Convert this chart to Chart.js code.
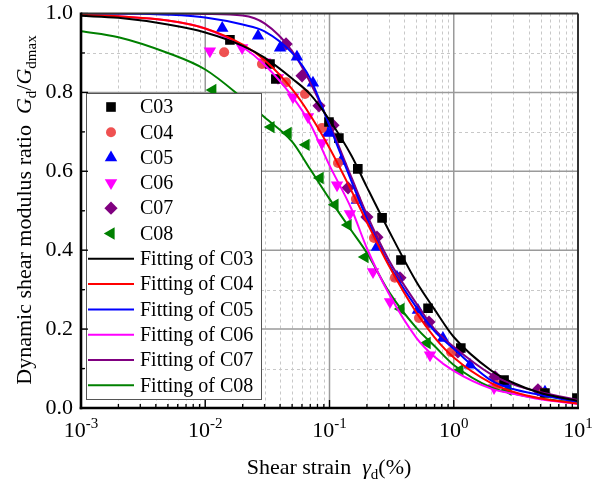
<!DOCTYPE html>
<html>
<head>
<meta charset="utf-8">
<script src="https://cdn.jsdelivr.net/npm/chart.js@4.4.0/dist/chart.umd.min.js"></script>
<style>
  html, body { margin: 0; padding: 0; background: #fff; }
</style>
</head>
<body>
<canvas id="myChart" width="604" height="484"></canvas>
<script>
"use strict";

// ---- data ----
const fitStrain = [0.001, 0.002, 0.005, 0.01, 0.02, 0.03, 0.05, 0.07, 0.1, 0.15, 0.2, 0.3, 0.5, 0.7, 1, 2, 3, 5, 10];
const fitC03 = [0.994, 0.989, 0.972, 0.952, 0.918, 0.888, 0.835, 0.795, 0.73, 0.64, 0.56, 0.45, 0.32, 0.25, 0.18, 0.095, 0.064, 0.038, 0.018];
const fitC04 = [0.997, 0.993, 0.982, 0.962, 0.921, 0.882, 0.808, 0.742, 0.659, 0.551, 0.471, 0.361, 0.242, 0.179, 0.128, 0.063, 0.041, 0.024, 0.011];
const fitC05 = [1.0, 1.0, 0.997, 0.99, 0.972, 0.955, 0.9, 0.835, 0.715, 0.575, 0.48, 0.365, 0.255, 0.195, 0.15, 0.07, 0.048, 0.033, 0.015];
const fitC06 = [0.997, 0.993, 0.982, 0.962, 0.915, 0.87, 0.79, 0.72, 0.615, 0.505, 0.405, 0.29, 0.178, 0.13, 0.094, 0.049, 0.036, 0.022, 0.01];
const fitC07 = [1.0, 1.0, 1.0, 0.999, 0.995, 0.975, 0.905, 0.825, 0.72, 0.585, 0.49, 0.375, 0.265, 0.2, 0.155, 0.085, 0.06, 0.04, 0.02];
const fitC08 = [0.955, 0.94, 0.9, 0.858, 0.785, 0.737, 0.675, 0.605, 0.53, 0.45, 0.393, 0.295, 0.203, 0.157, 0.109, 0.052, 0.037, 0.024, 0.013];

const c03Strain = [0.0158, 0.0332, 0.037, 0.099, 0.119, 0.169, 0.265, 0.376, 0.621, 1.14, 2.54, 5.42, 9.8];
const c03Ratio  = [0.933, 0.872, 0.834, 0.725, 0.684, 0.606, 0.482, 0.375, 0.253, 0.152, 0.071, 0.038, 0.025];
const c04Strain = [0.0142, 0.0286, 0.0447, 0.0635, 0.0871, 0.117, 0.163, 0.228, 0.336, 0.525, 0.95, 2.23, 5.23];
const c04Ratio  = [0.902, 0.872, 0.826, 0.796, 0.71, 0.621, 0.53, 0.431, 0.33, 0.228, 0.142, 0.058, 0.038];
const c05Strain = [0.0137, 0.0266, 0.04, 0.0547, 0.0736, 0.0973, 0.124, 0.166, 0.241, 0.349, 0.515, 0.818, 1.35, 2.58, 5.42];
const c05Ratio  = [0.963, 0.943, 0.913, 0.89, 0.824, 0.697, 0.626, 0.527, 0.408, 0.332, 0.248, 0.177, 0.109, 0.063, 0.041];
const c06Strain = [0.0109, 0.0198, 0.0303, 0.0385, 0.0508, 0.0671, 0.0871, 0.115, 0.146, 0.224, 0.307, 0.644, 2.11];
const c06Ratio  = [0.905, 0.913, 0.877, 0.837, 0.788, 0.738, 0.672, 0.565, 0.492, 0.345, 0.269, 0.134, 0.051];
const c07Strain = [0.0447, 0.0601, 0.0823, 0.1067, 0.141, 0.2, 0.241, 0.369, 0.632, 1.08, 2.15, 4.76];
const c07Ratio  = [0.923, 0.842, 0.766, 0.717, 0.558, 0.484, 0.433, 0.33, 0.218, 0.142, 0.079, 0.046];
const c08Strain = [0.0115, 0.0338, 0.0464, 0.0647, 0.084, 0.1107, 0.141, 0.193, 0.376, 0.61, 1.12, 2.73];
const c08Ratio  = [0.806, 0.712, 0.697, 0.667, 0.583, 0.515, 0.464, 0.383, 0.251, 0.165, 0.096, 0.046];

const yTickLabels = ["0.0", "0.2", "0.4", "0.6", "0.8", "1.0"];
const xTickValues = [0.001, 0.01, 0.1, 1, 10];
const xTickExps = ["-3", "-2", "-1", "0", "1"];

function pairs(xs, ys) {
   return xs.map((x, i) => ({ x: x, y: ys[i] }));
}

const SERIF = "'Liberation Serif', 'Times New Roman', serif";
Chart.defaults.font.family = SERIF;
Chart.defaults.color = "#000";

function pointSet(label, xs, ys, color, style, radius, rotation) {
   return {
      label: label,
      data: pairs(xs, ys),
      backgroundColor: color,
      borderColor: color,
      borderWidth: 0,
      pointStyle: style,
      pointRadius: radius,
      pointRotation: rotation || 0,
      showLine: false,
      order: 1,
   };
}

function fitSet(label, ys, color) {
   return {
      label: label,
      data: pairs(fitStrain, ys),
      borderColor: color,
      backgroundColor: color,
      borderWidth: 2,
      pointRadius: 0,
      showLine: true,
      cubicInterpolationMode: "monotone",
      order: 0,
   };
}

const datasets = [
   pointSet("C03", c03Strain, c03Ratio, "#000000", "rect", 6.8),
   pointSet("C04", c04Strain, c04Ratio, "rgba(238,66,66,0.92)", "circle", 5),
   pointSet("C05", c05Strain, c05Ratio, "#0000ff", "triangle", 7.2),
   pointSet("C06", c06Strain, c06Ratio, "#ff00ff", "triangle", 7.2, 180),
   pointSet("C07", c07Strain, c07Ratio, "#800080", "rectRot", 6.6),
   pointSet("C08", c08Strain, c08Ratio, "#008000", "triangle", 7.2, -90),
   fitSet("Fitting of C03", fitC03, "#000000"),
   fitSet("Fitting of C04", fitC04, "#ff0000"),
   fitSet("Fitting of C05", fitC05, "#0000ff"),
   fitSet("Fitting of C06", fitC06, "#ff00ff"),
   fitSet("Fitting of C07", fitC07, "#800080"),
   fitSet("Fitting of C08", fitC08, "#008000"),
];

function seg(ctx, x1, y1, x2, y2) {
   ctx.beginPath();
   ctx.moveTo(x1, y1);
   ctx.lineTo(x2, y2);
   ctx.stroke();
}

// draw a run of text pieces with different fonts, centred on x
function drawRuns(ctx, runs, cx, baseY) {
   let total = 0;
   runs.forEach((r) => {
      ctx.font = r.font;
      r.w = ctx.measureText(r.t).width;
      total += r.w;
   });
   let x = cx - total / 2;
   ctx.textAlign = "left";
   ctx.textBaseline = "alphabetic";
   runs.forEach((r) => {
      ctx.font = r.font;
      ctx.fillText(r.t, x, baseY + (r.dy || 0));
      x += r.w;
   });
}

const framePlugin = {
   id: "frame",
   beforeDatasetsDraw(chart) {
      const { ctx, chartArea: a, scales } = chart;
      const x = scales.x, y = scales.y;
      ctx.save();
      // minor grid
      ctx.lineWidth = 1;
      ctx.strokeStyle = "#c8c8c8";
      ctx.setLineDash([3, 3]);
      for (let e = -3; e < 1; e++) {
         for (let m = 2; m < 10; m++) {
            const px = Math.round(x.getPixelForValue(m * Math.pow(10, e))) + 0.5;
            seg(ctx, px, a.top, px, a.bottom);
         }
      }
      for (let k = 1; k < 10; k += 2) {
         const py = Math.round(y.getPixelForValue(k / 10)) + 0.5;
         seg(ctx, a.left, py, a.right, py);
      }
      // major grid
      ctx.setLineDash([]);
      ctx.strokeStyle = "#9a9a9a";
      ctx.lineWidth = 1.5;
      for (let i = 1; i < xTickValues.length - 1; i++) {
         const px = x.getPixelForValue(xTickValues[i]);
         seg(ctx, px, a.top, px, a.bottom);
      }
      for (let k = 2; k < 10; k += 2) {
         const py = y.getPixelForValue(k / 10);
         seg(ctx, a.left, py, a.right, py);
      }
      ctx.restore();
   },
   afterDatasetsDraw(chart) {
      const { ctx, chartArea: a, scales } = chart;
      const x = scales.x, y = scales.y;
      ctx.save();

      // legend
      const lx = 86.5, ly = 93.5, lw = 175, lh = 306;
      ctx.fillStyle = "#fff";
      ctx.fillRect(lx, ly, lw, lh);
      ctx.strokeStyle = "#555";
      ctx.lineWidth = 1;
      ctx.strokeRect(lx, ly, lw, lh);
      ctx.font = "20px " + SERIF;
      ctx.textBaseline = "middle";
      ctx.textAlign = "left";
      chart.data.datasets.forEach((ds, i) => {
         const ry = 107 + i * 25.3;
         if (ds.showLine) {
            ctx.strokeStyle = ds.borderColor;
            ctx.lineWidth = 2;
            seg(ctx, 88, ry, 134, ry);
         } else {
            ctx.fillStyle = ds.backgroundColor;
            Chart.helpers.drawPoint(ctx, {
               pointStyle: ds.pointStyle,
               radius: ds.pointRadius,
               rotation: ds.pointRotation,
               borderWidth: 0,
            }, 111, ry);
         }
         ctx.fillStyle = "#000";
         ctx.fillText(ds.label, 140, ry + 1);
      });

      // inward tick marks
      ctx.strokeStyle = "#000";
      ctx.lineWidth = 1.3;
      for (let e = -3; e < 1; e++) {
         for (let m = 1; m < 10; m++) {
            const px = x.getPixelForValue(m * Math.pow(10, e));
            seg(ctx, px, a.bottom, px, a.bottom - (m === 1 ? 8 : 4));
         }
      }
      for (let k = 0; k <= 10; k++) {
         const py = y.getPixelForValue(k / 10);
         seg(ctx, a.left, py, a.left + (k % 2 === 0 ? 7 : 4), py);
      }

      // frame
      ctx.lineWidth = 2;
      ctx.strokeStyle = "#333";
      seg(ctx, a.left, a.top, a.right, a.top);
      seg(ctx, a.right, a.top, a.right, a.bottom);
      ctx.strokeStyle = "#000";
      ctx.lineWidth = 2.6;
      seg(ctx, a.left, a.top - 1, a.left, a.bottom + 1.3);
      seg(ctx, a.left - 1.3, a.bottom, a.right + 1, a.bottom);
      ctx.restore();
   },
   afterDraw(chart) {
      const { ctx, scales } = chart;
      const x = scales.x;
      ctx.save();
      ctx.fillStyle = "#000";
      // x tick labels with superscripts
      xTickValues.forEach((v, i) => {
         drawRuns(ctx, [
            { t: "10", font: "22px " + SERIF },
            { t: xTickExps[i], font: "15px " + SERIF, dy: -9 },
         ], x.getPixelForValue(v), 437);
      });
      // x title
      drawRuns(ctx, [
         { t: "Shear strain  ", font: "22px " + SERIF },
         { t: "\u03b3", font: "italic 22px " + SERIF },
         { t: "d", font: "15px " + SERIF, dy: 5 },
         { t: "(%)", font: "22px " + SERIF },
      ], 329, 474);
      // y title
      ctx.translate(31, 210);
      ctx.rotate(-Math.PI / 2);
      drawRuns(ctx, [
         { t: "Dynamic shear modulus ratio  ", font: "22px " + SERIF },
         { t: "G", font: "italic 22px " + SERIF },
         { t: "d", font: "15px " + SERIF, dy: 5 },
         { t: "/", font: "22px " + SERIF },
         { t: "G", font: "italic 22px " + SERIF },
         { t: "dmax", font: "15px " + SERIF, dy: 5 },
      ], 0, 0);
      ctx.restore();
   },
};

const ctx = document.getElementById("myChart").getContext("2d");
const myChart = new Chart(ctx, {
   type: "scatter",
   data: { datasets: datasets },
   options: {
      responsive: false,
      animation: false,
      layout: { padding: { top: 13.5, right: 26, left: 0, bottom: 0 } },
      plugins: {
         legend: { display: false },
         tooltip: { enabled: false },
      },
      scales: {
         x: {
            type: "logarithmic",
            min: 0.001,
            max: 10,
            grid: { display: false, drawTicks: false },
            border: { display: false },
            ticks: { display: false },
            afterFit(scale) {
               scale.height = 76;
               scale.paddingLeft = 0;
               scale.paddingRight = 0;
            },
         },
         y: {
            min: 0,
            max: 1,
            grid: { display: false, drawTicks: false },
            border: { display: false },
            ticks: {
               stepSize: 0.2,
               padding: 8,
               font: { size: 22 },
               color: "#000",
               callback: (v) => yTickLabels[Math.round(v * 5)],
            },
            afterFit(scale) {
               scale.width = 81;
               scale.paddingTop = 0;
               scale.paddingBottom = 0;
            },
         },
      },
   },
   plugins: [framePlugin],
});
</script>
</body>
</html>
